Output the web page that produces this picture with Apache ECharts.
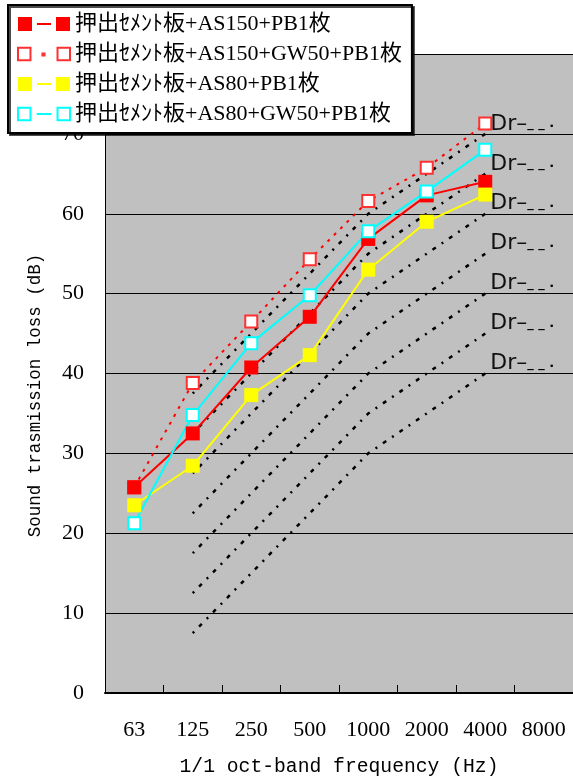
<!DOCTYPE html>
<html>
<head>
<meta charset="utf-8">
<script src="https://cdn.jsdelivr.net/npm/echarts@6/dist/echarts.min.js"></script>
<style>
  html, body { margin: 0; padding: 0; background: #fff; }
  #chart { width: 573px; height: 782px; }
</style>
</head>
<body>
<div id="chart"></div>
<script>
// 1/1 octave bands
const categories = ["63", "125", "250", "500", "1000", "2000", "4000", "8000"];

// measured transmission loss (dB), 63 .. 4000 Hz
const as150 = [25.75, 32.5, 40.75, 47.1, 56.85, 62.3, 64.0];
const as150Gw50 = [25.75, 38.8, 46.5, 54.3, 61.6, 65.75, 71.3];
const as80 = [23.5, 28.45, 37.3, 42.3, 53.0, 59.0, 62.4];
const as80Gw50 = [21.25, 34.8, 43.8, 49.8, 57.8, 62.8, 68.0];

// Dr reference curves, 125 .. 4000 Hz (no value at 63)
const dr40 = [null, 7.5, 15, 22.5, 30, 35, 40];
const dr45 = [null, 12.5, 20, 27.5, 35, 40, 45];
const dr50 = [null, 17.5, 25, 32.5, 40, 45, 50];
const dr55 = [null, 22.5, 30, 37.5, 45, 50, 55];
const dr60 = [null, 27.5, 35, 42.5, 50, 55, 60];
const dr65 = [null, 32.5, 40, 47.5, 55, 60, 65];
const dr70 = [null, 37.5, 45, 52.5, 60, 65, 70];

const names = [
  "押出ｾﾒﾝﾄ板+AS150+PB1枚",
  "押出ｾﾒﾝﾄ板+AS150+GW50+PB1枚",
  "押出ｾﾒﾝﾄ板+AS80+PB1枚",
  "押出ｾﾒﾝﾄ板+AS80+GW50+PB1枚",
];

const serif = "'Liberation Serif', 'Noto Sans CJK JP', serif";
const mono = "'Liberation Mono', monospace";

const drSeries = [dr40, dr45, dr50, dr55, dr60, dr65, dr70].map((values, i) => ({
  type: "line",
  name: "Dr" + i,
  data: values,
  showSymbol: false,
  symbol: "none",
  silent: true,
  lineStyle: { color: "#000", width: 2.5, type: [2, 7, 4, 7] },
  endLabel: {
    show: true,
    formatter: "Dr–{d|_ _ .}",
    color: "#111",
    fontFamily: "'DejaVu Sans', sans-serif",
    fontSize: 22,
    distance: 5,
    offset: [0, -10],
    rich: { d: { fontSize: 13, fontWeight: "bold", color: "#000" } },
  },
}));

const filledIcon = "path://M0,0h14v14h-14z M19,6h14v2h-14z M38,0h14v14h-14z";

const option = {
  animation: false,
  backgroundColor: "#fff",
  grid: {
    left: 105,
    right: -1,
    top: 54,
    bottom: 88,
    show: true,
    backgroundColor: "#c0c0c0",
    borderWidth: 0,
  },
  legend: {
    left: 8,
    top: 5,
    orient: "vertical",
    itemWidth: 52,
    itemHeight: 14,
    itemGap: 8,
    padding: [8, 10, 8, 9],
    backgroundColor: "#fff",
    borderColor: "#000",
    borderWidth: 2,
    shadowColor: "rgba(0,0,0,0.7)",
    shadowOffsetX: 2,
    shadowOffsetY: 2,
    shadowBlur: 0,
    selectedMode: false,
    textStyle: { fontFamily: serif, fontSize: 22, lineHeight: 22, color: "#000" },
    data: [
      { name: names[0], icon: filledIcon, itemStyle: { color: "#ff0000", borderWidth: 0 } },
      {
        name: names[1],
        icon: "path://M1,1h12v12h-12z M24.5,6.5h2v2h-2z M39,1h12v12h-12z",
        itemStyle: { color: "#fff", borderColor: "#ff3030", borderWidth: 2 },
      },
      { name: names[2], icon: filledIcon, itemStyle: { color: "#ffff00", borderWidth: 0 } },
      {
        name: names[3],
        icon: "path://M1,1h12v12h-12z M19,7h14 M39,1h12v12h-12z",
        itemStyle: { color: "#fff", borderColor: "#00ffff", borderWidth: 2 },
      },
    ],
  },
  xAxis: {
    type: "category",
    data: categories,
    boundaryGap: true,
    name: "1/1 oct-band frequency (Hz)",
    nameLocation: "middle",
    nameGap: 64,
    nameTextStyle: { fontFamily: mono, fontSize: 19.7, color: "#000" },
    axisLine: { show: true, lineStyle: { color: "#000", width: 2 } },
    axisTick: { show: true, inside: true, length: 8, interval: 0, lineStyle: { color: "#000" } },
    axisLabel: { interval: 0, margin: 26, fontFamily: serif, fontSize: 22, color: "#000" },
    splitLine: { show: false },
  },
  yAxis: {
    type: "value",
    min: 0,
    max: 80,
    interval: 10,
    name: "Sound trasmission loss (dB)",
    nameLocation: "middle",
    nameGap: 61,
    nameRotate: 90,
    nameTextStyle: { fontFamily: mono, fontSize: 17.5, color: "#000", padding: [0, 44, 0, 0] },
    axisLine: { show: true, lineStyle: { color: "#000", width: 1 } },
    axisTick: { show: false },
    axisLabel: { margin: 21, fontFamily: serif, fontSize: 22, color: "#000" },
    splitLine: { show: true, lineStyle: { color: "#000", width: 1 } },
  },
  series: [
    ...drSeries,
    {
      type: "line",
      name: names[1],
      data: as150Gw50,
      symbol: "rect",
      symbolSize: 12,
      itemStyle: { color: "#fff", borderColor: "#ff3030", borderWidth: 2 },
      lineStyle: { color: "#ff0000", width: 2, type: [3, 6] },
    },
    {
      type: "line",
      name: names[0],
      data: as150,
      symbol: "rect",
      symbolSize: 14,
      itemStyle: { color: "#ff0000" },
      lineStyle: { color: "#ff0000", width: 2 },
    },
    {
      type: "line",
      name: names[2],
      data: as80,
      symbol: "rect",
      symbolSize: 14,
      itemStyle: { color: "#ffff00" },
      lineStyle: { color: "#ffff00", width: 2 },
    },
    {
      type: "line",
      name: names[3],
      data: as80Gw50,
      symbol: "rect",
      symbolSize: 12,
      itemStyle: { color: "#fff", borderColor: "#00ffff", borderWidth: 2 },
      lineStyle: { color: "#00ffff", width: 2 },
    },
  ],
};

const chart = echarts.init(document.getElementById("chart"));
chart.setOption(option);
</script>
</body>
</html>
